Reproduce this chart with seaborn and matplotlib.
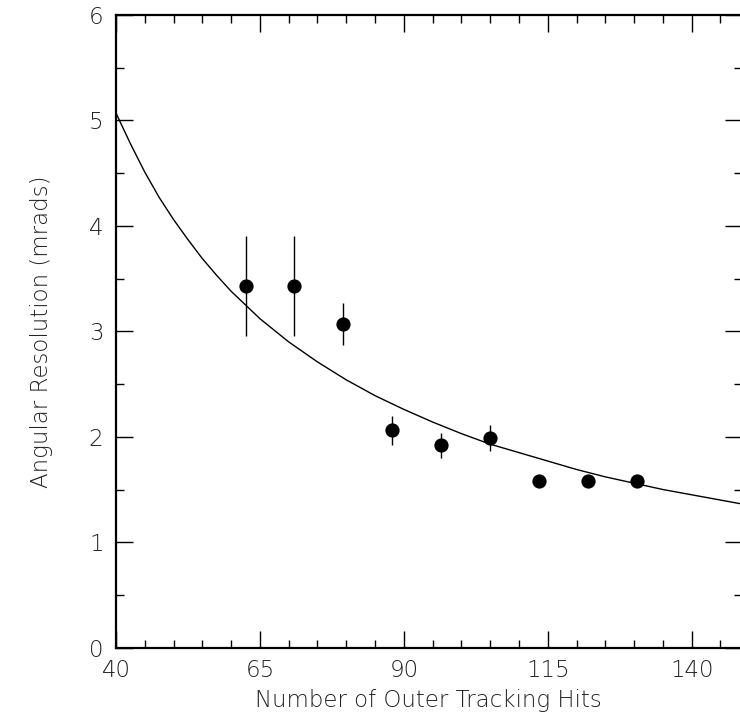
import numpy as np
import pandas as pd
import matplotlib
matplotlib.use("Agg")
import matplotlib.pyplot as plt
import seaborn as sns
from matplotlib.ticker import MultipleLocator

# Data
hits = [62.5, 71.0, 79.5, 88.0, 96.5, 105.0, 113.5, 122.0, 130.5]
resolution = [3.43, 3.43, 3.07, 2.06, 1.92, 1.99, 1.58, 1.58, 1.58]
res_err = [0.47, 0.47, 0.20, 0.135, 0.12, 0.12, 0.04, 0.04, 0.04]

# Fit curve
curve_x = [40, 42.5, 45, 47.5, 50, 52.5, 55, 57.5, 60, 62.5, 65, 67.5, 70, 75,
           80, 85, 90, 95, 100, 105, 110, 115, 120, 125, 130, 135, 140, 145, 149]
curve_y = [5.07, 4.78, 4.51, 4.27, 4.06, 3.87, 3.69, 3.53, 3.38, 3.25, 3.12,
           3.01, 2.90, 2.71, 2.54, 2.39, 2.26, 2.14, 2.03, 1.93, 1.85, 1.77,
           1.69, 1.62, 1.56, 1.50, 1.45, 1.40, 1.36]

x_ticks = [40, 65, 90, 115, 140]
y_ticks = [0, 1, 2, 3, 4, 5, 6]

sns.set_style("ticks")
plt.rcParams['font.family'] = ['DejaVu Sans']

fig = plt.figure(figsize=(7.40, 7.19), dpi=100)
ax = fig.add_axes([116/740, 1 - 647.7/719, (741.5 - 116)/740, (647.7 - 15)/719])

df_pts = pd.DataFrame({"hits": hits, "res": resolution})
df_curve = pd.DataFrame({"x": curve_x, "y": curve_y})

sns.lineplot(data=df_curve, x="x", y="y", ax=ax, color="black", linewidth=1.0,
             estimator=None, sort=True)
ax.errorbar(hits, resolution, yerr=res_err, fmt="none", ecolor="black",
            elinewidth=1.0, capsize=0)
sns.scatterplot(data=df_pts, x="hits", y="res", ax=ax, color="black", s=105,
                edgecolor="black", linewidth=0, zorder=5)

ax.set_xlim(40, 148.65)
ax.set_ylim(0, 6)
ax.set_xticks(x_ticks)
ax.set_yticks(y_ticks)
ax.xaxis.set_minor_locator(MultipleLocator(5))
ax.yaxis.set_minor_locator(MultipleLocator(0.5))
ax.tick_params(which="both", direction="in", top=True, right=True,
               color="black", width=1.0)
ax.tick_params(which="major", length=12, labelsize=16.5, pad=8)
ax.tick_params(which="minor", length=6)
ax.tick_params(axis="y", which="major", pad=9)
for lab in ax.get_xticklabels() + ax.get_yticklabels():
    lab.set_fontweight("light")
    lab.set_color("#222222")
for sp in ax.spines.values():
    sp.set_linewidth(1.6)
    sp.set_color("black")

ax.set_xlabel("Number of Outer Tracking Hits", fontsize=16.5,
              fontweight="light", color="#222222", labelpad=5)
ax.set_ylabel("Angular Resolution (mrads)", fontsize=16.5,
              fontweight="light", color="#222222", labelpad=26)

fig.savefig("out.png", dpi=100)
